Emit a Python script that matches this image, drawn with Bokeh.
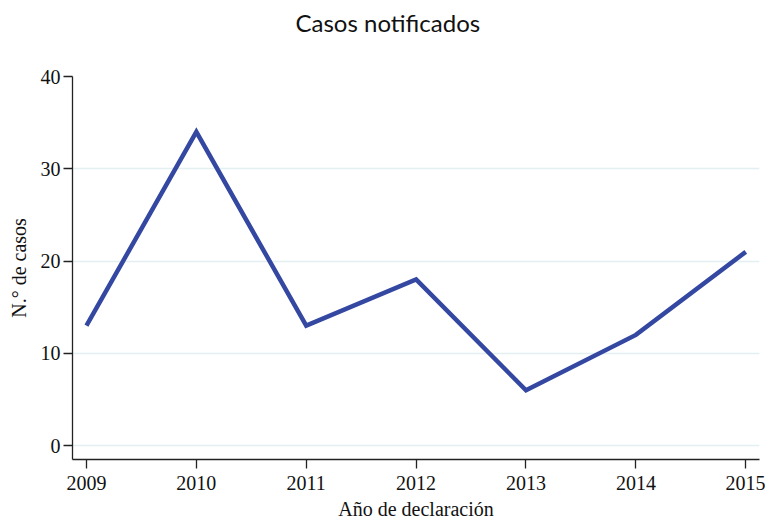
from bokeh.plotting import figure
from bokeh.models import Range1d, FixedTicker, Title
from bokeh.embed import file_html
from bokeh.resources import INLINE

years = [2009, 2010, 2011, 2012, 2013, 2014, 2015]
cases = [13, 34, 13, 18, 6, 12, 21]
y_ticks = [0, 10, 20, 30, 40]
title_text = "Casos notificados"

SERIF = "Liberation Serif"

p = figure(width=765, height=522, output_backend="svg", toolbar_location=None,
           x_range=Range1d(2008.873, 2015.125), y_range=Range1d(-1.5, 40),
           min_border_left=72, min_border_right=6, min_border_top=76, min_border_bottom=63)
p.outline_line_color = None
p.background_fill_color = "white"
p.border_fill_color = "white"

p.line(years, cases, line_color="#3448a2", line_width=4.5, line_join="miter")

# spacer between frame and title, then the title itself
p.add_layout(Title(text=" ", text_font_size="1px", standoff=37), "above")
p.add_layout(Title(text=title_text, align="left", offset=223, standoff=0,
                   text_font="Lato", text_font_style="normal",
                   text_font_size="24px", text_color="#111111"), "above")

p.xaxis.ticker = FixedTicker(ticks=years)
p.yaxis.ticker = FixedTicker(ticks=y_ticks)
p.xgrid.grid_line_color = None
p.ygrid.grid_line_color = "#e4eff2"
p.ygrid.grid_line_width = 1.5

for ax in (p.xaxis[0], p.yaxis[0]):
    ax.axis_line_color = "#222222"
    ax.axis_line_width = 1.3
    ax.major_tick_line_color = "#222222"
    ax.major_tick_line_width = 1.3
    ax.major_tick_out = 9
    ax.major_tick_in = 0
    ax.minor_tick_line_color = None
    ax.major_label_text_font = SERIF
    ax.major_label_text_font_size = "20px"
    ax.major_label_text_color = "#111111"
    ax.axis_label_text_font = SERIF
    ax.axis_label_text_font_style = "normal"
    ax.axis_label_text_color = "#111111"

p.xaxis.major_label_standoff = 7
p.yaxis.major_label_standoff = 3
p.yaxis.major_label_orientation = "horizontal"
p.xaxis.axis_label = "Año de declaración"
p.xaxis.axis_label_text_font_size = "20px"
p.xaxis.axis_label_standoff = 5
p.yaxis.axis_label = "N.° de casos"
p.yaxis.axis_label_text_font_size = "20px"
p.yaxis.axis_label_standoff = 8

open("out.html", "w").write(file_html(p, INLINE))
